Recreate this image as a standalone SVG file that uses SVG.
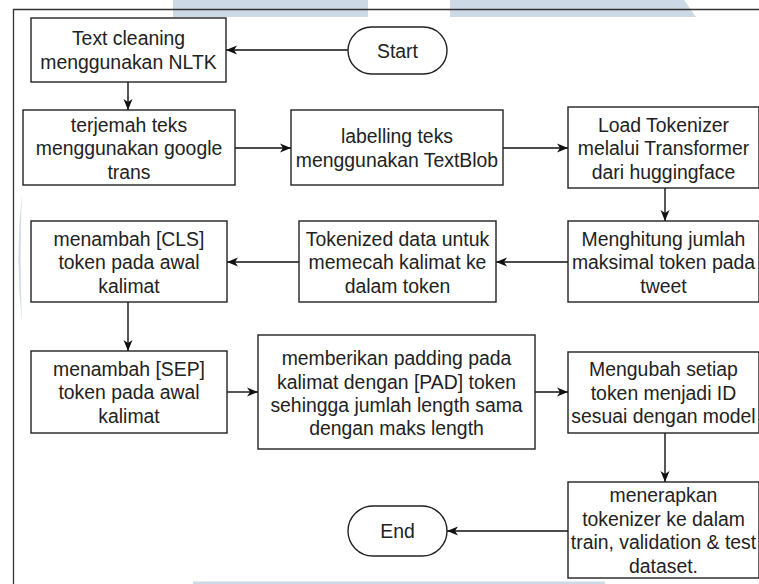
<svg xmlns="http://www.w3.org/2000/svg" width="759" height="584" viewBox="0 0 759 584">
<style>
.b{fill:#fff;stroke:#222;stroke-width:1.4}
.t{font-family:"Liberation Sans",Arial,sans-serif;font-size:19.4px;fill:#222;text-anchor:middle}
.c{fill:none;stroke:#111;stroke-width:1.4}
.w{fill:#cdd9e5}
</style>
<defs>
<marker id="ah" markerUnits="userSpaceOnUse" markerWidth="12" markerHeight="10" refX="11" refY="5" orient="auto">
<path d="M0,0.5 L11,5 L0,9.5 L3,5 z" fill="#111"/>
</marker>
</defs>
<rect width="759" height="584" fill="#fff"/>
<g id="watermark">
<rect class="w" x="173" y="0" width="195" height="17"/>
<polygon class="w" points="450,0 684,0 696,17 450,17"/>
<rect class="w" x="193" y="581.5" width="412" height="3"/>
<path class="w" d="M22,193 Q15,258 22,323 Q19,258 22,193 z"/>
</g>
<path d="M13.5,584 L13.5,9.5 L759,9.5" fill="none" stroke="#333" stroke-width="1.3"/>
<g id="connectors">
<path class="c" d="M348,50 L226,50" marker-end="url(#ah)"/>
<path class="c" d="M128,82 L128,110" marker-end="url(#ah)"/>
<path class="c" d="M235,148 L291,148" marker-end="url(#ah)"/>
<path class="c" d="M503,148 L568,148" marker-end="url(#ah)"/>
<path class="c" d="M665,188 L665,221" marker-end="url(#ah)"/>
<path class="c" d="M568,262 L496,262" marker-end="url(#ah)"/>
<path class="c" d="M299,262 L227,262" marker-end="url(#ah)"/>
<path class="c" d="M128,302 L128,351" marker-end="url(#ah)"/>
<path class="c" d="M227,392 L258,392" marker-end="url(#ah)"/>
<path class="c" d="M535,392 L568,392" marker-end="url(#ah)"/>
<path class="c" d="M665,433 L665,482" marker-end="url(#ah)"/>
<path class="c" d="M568,531 L447,531" marker-end="url(#ah)"/>
</g>
<g id="start">
<rect class="b" x="348" y="27" width="99" height="47" rx="23.5"/>
<text class="t" x="397.5" y="57.5">Start</text>
</g>
<g id="n1">
<rect class="b" x="31" y="18" width="195" height="64"/>
<text class="t" x="128.5" y="45">Text cleaning</text>
<text class="t" x="128.5" y="69">menggunakan NLTK</text>
</g>
<g id="n2">
<rect class="b" x="23" y="110" width="212" height="75"/>
<text class="t" x="129" y="131.5">terjemah teks</text>
<text class="t" x="129" y="155">menggunakan google</text>
<text class="t" x="129" y="178.5">trans</text>
</g>
<g id="n3">
<rect class="b" x="291" y="110" width="212" height="75"/>
<text class="t" x="397" y="143">labelling teks</text>
<text class="t" x="397" y="166.5">menggunakan TextBlob</text>
</g>
<g id="n4">
<rect class="b" x="568" y="107" width="191" height="81"/>
<text class="t" x="663.5" y="131.5">Load Tokenizer</text>
<text class="t" x="663.5" y="155">melalui Transformer</text>
<text class="t" x="663.5" y="178.5">dari huggingface</text>
</g>
<g id="n5">
<rect class="b" x="568" y="221" width="191" height="81"/>
<text class="t" x="663.5" y="245.5">Menghitung jumlah</text>
<text class="t" x="663.5" y="269">maksimal token pada</text>
<text class="t" x="663.5" y="292.5">tweet</text>
</g>
<g id="n6">
<rect class="b" x="299" y="221" width="197" height="81"/>
<text class="t" x="397.5" y="245.5">Tokenized data untuk</text>
<text class="t" x="397.5" y="269">memecah kalimat ke</text>
<text class="t" x="397.5" y="292.5">dalam token</text>
</g>
<g id="n7">
<rect class="b" x="31" y="221" width="196" height="81"/>
<text class="t" x="129" y="245.5">menambah [CLS]</text>
<text class="t" x="129" y="269">token pada awal</text>
<text class="t" x="129" y="292.5">kalimat</text>
</g>
<g id="n8">
<rect class="b" x="31" y="351" width="196" height="82"/>
<text class="t" x="129" y="375.5">menambah [SEP]</text>
<text class="t" x="129" y="399">token pada awal</text>
<text class="t" x="129" y="422.5">kalimat</text>
</g>
<g id="n9">
<rect class="b" x="258" y="335" width="277" height="114"/>
<text class="t" x="396.5" y="365">memberikan padding pada</text>
<text class="t" x="396.5" y="388.5">kalimat dengan [PAD] token</text>
<text class="t" x="396.5" y="412">sehingga jumlah length sama</text>
<text class="t" x="396.5" y="435">dengan maks length</text>
</g>
<g id="n10">
<rect class="b" x="568" y="352" width="191" height="81"/>
<text class="t" x="663.5" y="376">Mengubah setiap</text>
<text class="t" x="663.5" y="399.5">token menjadi ID</text>
<text class="t" x="663.5" y="423">sesuai dengan model</text>
</g>
<g id="n11">
<rect class="b" x="568" y="482" width="191" height="96"/>
<text class="t" x="663.5" y="502">menerapkan</text>
<text class="t" x="663.5" y="525.5">tokenizer ke dalam</text>
<text class="t" x="663.5" y="549">train, validation &amp; test</text>
<text class="t" x="663.5" y="572.5">dataset.</text>
</g>
<g id="end">
<rect class="b" x="348" y="506" width="99" height="50" rx="25"/>
<text class="t" x="397.5" y="538">End</text>
</g>
</svg>
